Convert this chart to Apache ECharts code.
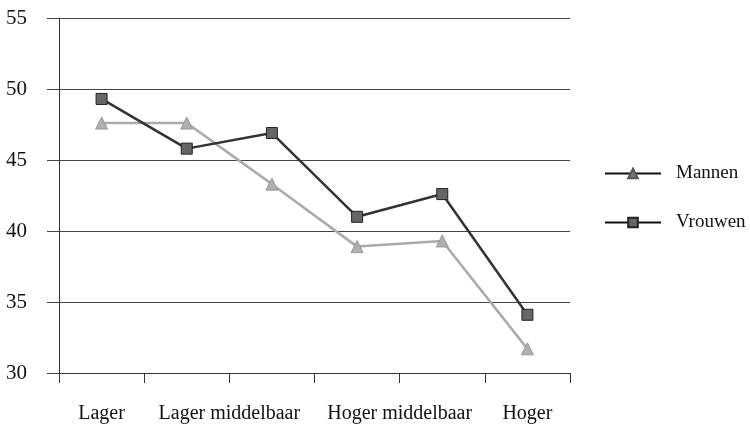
<!DOCTYPE html>
<html>
<head>
<meta charset="utf-8">
<script src="https://cdn.jsdelivr.net/npm/echarts@6/dist/echarts.min.js"></script>
<style>html,body{margin:0;padding:0;background:#fff}#c{width:750px;height:431px}</style>
</head>
<body>
<div id="c"></div>
<script>
const pointCategories = ['1', '2', '3', '4', '5', '6'];
const labelSlots = ['', 'Lager', '', '', 'Lager middelbaar', '', '', '', 'Hoger middelbaar', '', '', 'Hoger', ''];
const mannen = [47.6, 47.6, 43.3, 38.9, 39.3, 31.7];
const vrouwen = [49.3, 45.8, 46.9, 41.0, 42.6, 34.1];
const yTicks = [30, 35, 40, 45, 50, 55];

const FONT = 'Liberation Serif';
const chart = echarts.init(document.getElementById('c'), null, {renderer: 'canvas'});
chart.setOption({
  animation: false,
  backgroundColor: '#fff',
  grid: {left: 59, right: 180, top: 18, bottom: 58, containLabel: false},
  xAxis: [{
    type: 'category',
    data: pointCategories,
    boundaryGap: true,
    axisLine: {show: true, lineStyle: {color: '#333', width: 1}},
    axisTick: {show: true, alignWithLabel: false, length: 10, lineStyle: {color: '#333'}},
    axisLabel: {show: false},
    splitLine: {show: false}
  }, {
    type: 'category',
    data: labelSlots,
    boundaryGap: false,
    position: 'bottom',
    axisLine: {show: false},
    axisTick: {show: false},
    axisLabel: {show: true, interval: 0, margin: 31, color: '#111', fontFamily: FONT, fontSize: 20},
    splitLine: {show: false}
  }],
  yAxis: {
    type: 'value',
    min: yTicks[0], max: yTicks[yTicks.length - 1], interval: 5,
    axisLine: {show: true, lineStyle: {color: '#333', width: 1}},
    axisTick: {show: true, inside: false, length: 12, lineStyle: {color: '#444'}},
    axisLabel: {margin: 32, color: '#111', fontFamily: FONT, fontSize: 21},
    splitLine: {show: true, lineStyle: {color: '#444', width: 1}}
  },
  legend: {
    orient: 'vertical',
    left: 599, top: 159,
    itemWidth: 56, itemHeight: 12, itemGap: 30,
    textStyle: {fontFamily: FONT, fontSize: 19, color: '#111', padding: [0, 0, 0, 10]},
    data: [
      {name: 'Mannen', lineStyle: {color: '#111', width: 2}, itemStyle: {color: '#777', borderColor: '#555'}},
      {name: 'Vrouwen', lineStyle: {color: '#111', width: 2}, itemStyle: {color: '#666', borderColor: '#222'}}
    ]
  },
  series: [{
    name: 'Mannen', type: 'line', data: mannen, xAxisIndex: 0,
    symbol: 'triangle', symbolSize: 12,
    lineStyle: {color: '#aaa', width: 2.5},
    itemStyle: {color: '#b0b0b0', borderColor: '#999', borderWidth: 1}
  }, {
    name: 'Vrouwen', type: 'line', data: vrouwen, xAxisIndex: 0,
    symbol: 'rect', symbolSize: 11,
    lineStyle: {color: '#333', width: 2.5},
    itemStyle: {color: '#666', borderColor: '#222', borderWidth: 1}
  }]
});
</script>
</body>
</html>
